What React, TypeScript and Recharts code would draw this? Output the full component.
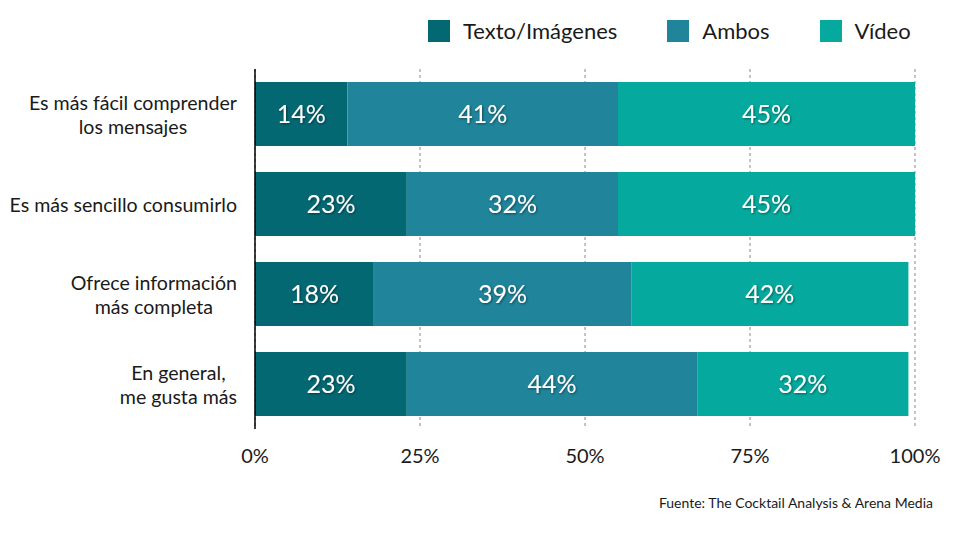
import { BarChart, Bar, XAxis, YAxis, CartesianGrid, LabelList } from "recharts";

const categories = [
  "Es más fácil comprender\nlos mensajes",
  "Es más sencillo consumirlo",
  "Ofrece información\nmás completa",
  "En general,\nme gusta más",
];
const textoImagenes = [14, 23, 18, 23];
const ambos = [41, 32, 39, 44];
const video = [45, 45, 42, 32];
const xTicks = [0, 25, 50, 75, 100];

const series = [
  { key: "texto", name: "Texto/Imágenes", color: "#046873" },
  { key: "ambos", name: "Ambos", color: "#20849a" },
  { key: "video", name: "Vídeo", color: "#06a99d" },
];

const data = categories.map((c, i) => ({
  category: c,
  texto: textoImagenes[i],
  ambos: ambos[i],
  video: video[i],
}));

const FONT = "Lato, 'Noto Sans', sans-serif";

let ctx: CanvasRenderingContext2D | null = null;
function measure(text: string, size: number) {
  if (!ctx) ctx = document.createElement("canvas").getContext("2d");
  if (!ctx) return text.length * size * 0.5;
  ctx.font = `${size}px Lato`;
  return ctx.measureText(text).width;
}

function CategoryTick(props: any) {
  const { x, y, payload } = props;
  const lines = String(payload.value).split("\n");
  const size = 19.6;
  const maxW = Math.max(...lines.map((l) => measure(l, size)));
  const cx = x - maxW / 2;
  const lh = 24;
  const start = -((lines.length - 1) * lh) / 2;
  return (
    <text
      x={cx}
      y={y}
      textAnchor='middle'
      fontSize={size}
      fill='#1a1a1a'
      fontFamily={FONT}
      dominantBaseline='central'
    >
      {lines.map((l, i) => (
        <tspan key={i} x={cx} y={y + start + i * lh} dominantBaseline='central'>
          {l}
        </tspan>
      ))}
    </text>
  );
}

export default function App() {
  return (
    <div
      style={{
        position: "absolute",
        left: 0,
        top: 0,
        width: 969,
        height: 537,
        background: "#fff",
        fontFamily: FONT,
      }}
    >
      <div
        style={{
          position: "absolute",
          top: 17,
          left: 428,
          display: "flex",
          alignItems: "center",
          fontSize: 22,
          color: "#1a1a1a",
        }}
      >
        {series.map((s, i) => (
          <div
            key={s.key}
            style={{
              display: "flex",
              alignItems: "center",
              marginRight: i < 2 ? 50 : 0,
            }}
          >
            <span
              style={{
                width: 22,
                height: 22,
                background: s.color,
                display: "inline-block",
                marginRight: 13,
              }}
            />
            <span>{s.name}</span>
          </div>
        ))}
      </div>
      <BarChart
        width={969}
        height={537}
        data={data}
        layout='vertical'
        margin={{ top: 69, right: 54, bottom: 68, left: 0 }}
        barSize={64}
      >
        <defs>
          <filter id='lblShadow' x='-20%' y='-20%' width='140%' height='140%'>
            <feDropShadow dx='1' dy='1' stdDeviation='0.8' floodColor='#000' floodOpacity='0.45' />
          </filter>
        </defs>
        <CartesianGrid
          horizontal={false}
          strokeDasharray='3 3'
          stroke='#888'
        />
        <XAxis
          type='number'
          domain={[0, 100]}
          ticks={xTicks}
          tickFormatter={(v) => `${v}%`}
          axisLine={false}
          tickLine={false}
          tickMargin={14}
          height={40}
          tick={{ fill: "#1a1a1a", fontSize: 20, fontFamily: FONT }}
        />
        <YAxis
          type='category'
          dataKey='category'
          width={255}
          tickLine={false}
          tickSize={0}
          tickMargin={18}
          axisLine={{ stroke: "#000", strokeWidth: 1.5 }}
          tick={<CategoryTick />}
          interval={0}
        />
        {series.map((s) => (
          <Bar
            key={s.key}
            dataKey={s.key}
            name={s.name}
            stackId='a'
            fill={s.color}
            isAnimationActive={false}
          >
            <LabelList
              dataKey={s.key}
              position='center'
              formatter={(v: any) => `${v}%`}
              fill='#fff'
              fontSize={25}
              fontFamily={FONT}
              filter='url(#lblShadow)'
            />
          </Bar>
        ))}
      </BarChart>
      <div
        style={{
          position: "absolute",
          right: 36,
          top: 494,
          fontSize: 14,
          color: "#1a1a1a",
        }}
      >
        Fuente: The Cocktail Analysis &amp; Arena Media
      </div>
    </div>
  );
}
